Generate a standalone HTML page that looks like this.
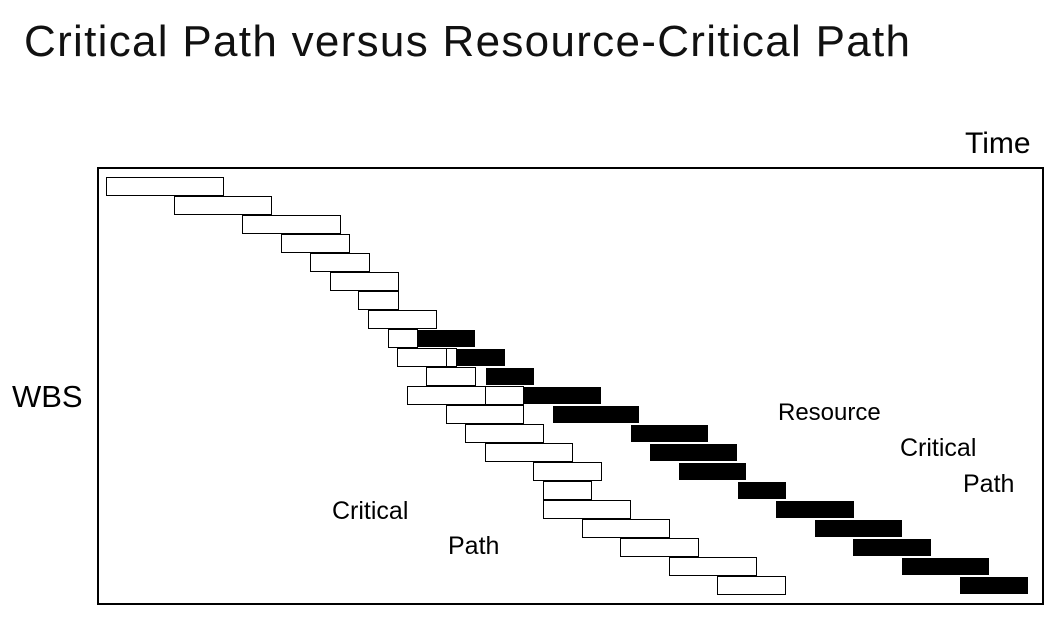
<!DOCTYPE html>
<html><head><style>
body{margin:0;width:1060px;height:625px;background:#fff;overflow:hidden;position:relative;font-family:"Liberation Sans",sans-serif}
.t{position:absolute;white-space:nowrap;color:#000}
.f{position:absolute;left:97px;top:167px;width:943px;height:434px;border:2px solid #000}
.w,.b{position:absolute;box-sizing:border-box}
.w{background:#fff;height:19px;border:1px solid #000}
.b{background:#000;height:17px}
</style></head><body>
<div class="t" style="left:24px;top:17px;font-size:44px;color:#111;letter-spacing:1.3px">Critical Path versus Resource-Critical Path</div>
<div class="t" style="left:965px;top:127px;font-size:30px">Time</div>
<div class="t" style="left:12px;top:379px;font-size:31px">WBS</div>
<div class="f"></div>
<div id="bars"></div>
<div class="t" style="left:778px;top:399px;font-size:24px">Resource</div>
<div class="t" style="left:900px;top:434px;font-size:25px">Critical</div>
<div class="t" style="left:963px;top:470px;font-size:25px">Path</div>
<div class="t" style="left:332px;top:497px;font-size:25px">Critical</div>
<div class="t" style="left:448px;top:532px;font-size:25px">Path</div>
<script>
var rows=[
[[106,223]],[[174,271]],[[242,340]],[[281,349]],[[310,369]],[[330,398]],[[358,398]],[[368,436]],
[[388,417],[418,474,1]],[[397,446],[446,456],[457,504,1]],[[426,475],[486,533,1]],
[[407,485],[485,523],[524,600,1]],[[446,523],[553,638,1]],[[465,543],[631,707,1]],
[[485,572],[650,736,1]],[[533,601],[679,745,1]],[[543,591],[738,785,1]],[[543,630],[776,853,1]],
[[582,669],[815,901,1]],[[620,698],[853,930,1]],[[669,756],[902,988,1]],[[717,785],[960,1027,1]]];
var h='';rows.forEach(function(r,i){var y=177+i*19;r.forEach(function(s){h+='<div class="'+(s[2]?'b':'w')+'" style="left:'+s[0]+'px;top:'+(s[2]?y+1:y)+'px;width:'+(s[1]-s[0]+1)+'px"></div>';});});
document.getElementById('bars').innerHTML=h;
</script>
</body></html>
